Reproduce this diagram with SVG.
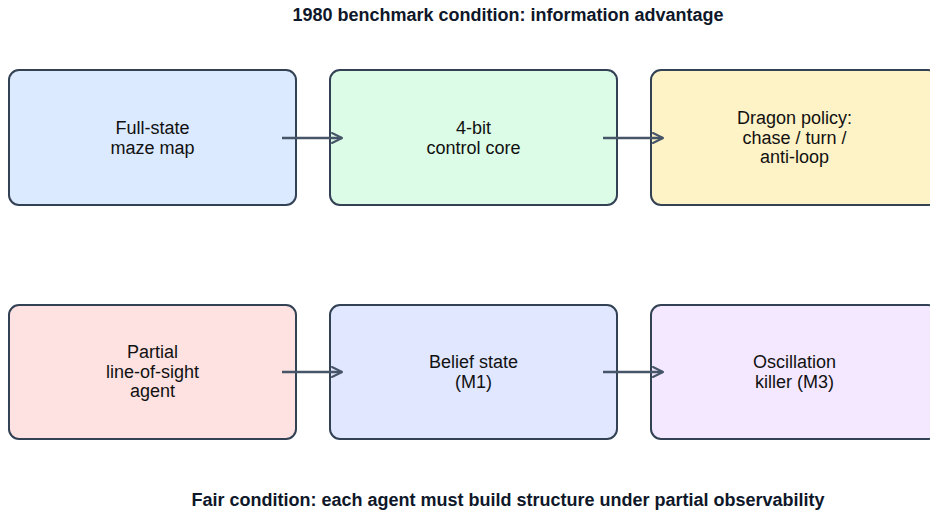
<svg xmlns="http://www.w3.org/2000/svg" width="930" height="514" viewBox="0 0 930 514">
  <defs>
    <marker id="arr" viewBox="0 0 12 12" refX="11" refY="6" markerWidth="12" markerHeight="12" markerUnits="userSpaceOnUse" orient="auto">
      <path d="M1,1 L11,6 L1,11" fill="none" stroke="#475569" stroke-width="2" stroke-linecap="round" stroke-linejoin="round"/>
    </marker>
  </defs>
  <style>
    .box { stroke: #334155; stroke-width: 2; }
    .lbl { font-family: "Liberation Sans", Arial, sans-serif; font-size: 18px; fill: #111111; text-anchor: middle; }
    .ttl { font-family: "Liberation Sans", Arial, sans-serif; font-size: 18px; font-weight: bold; fill: #0f172a; text-anchor: middle; }
    .conn { stroke: #475569; stroke-width: 2.5; fill: none; }
  </style>
  <rect width="930" height="514" fill="#ffffff"/>
  <text class="ttl" x="508" y="21">1980 benchmark condition: information advantage</text>
  <text class="ttl" x="508" y="506">Fair condition: each agent must build structure under partial observability</text>

  <g id="n1">
    <rect class="box" x="9" y="70" width="287" height="135" rx="10" fill="#dbeafe"/>
    <text class="lbl" x="152.5" y="133.5">Full-state</text>
    <text class="lbl" x="152.5" y="153.5">maze map</text>
  </g>
  <g id="n2">
    <rect class="box" x="330" y="70" width="287" height="135" rx="10" fill="#dcfce7"/>
    <text class="lbl" x="473.5" y="133.5">4-bit</text>
    <text class="lbl" x="473.5" y="153.5">control core</text>
  </g>
  <g id="n3">
    <rect class="box" x="651" y="70" width="287" height="135" rx="10" fill="#fef3c7"/>
    <text class="lbl" x="794.5" y="124">Dragon policy:</text>
    <text class="lbl" x="794.5" y="143.5">chase / turn /</text>
    <text class="lbl" x="794.5" y="163">anti-loop</text>
  </g>
  <g id="n4">
    <rect class="box" x="9" y="305" width="287" height="134" rx="10" fill="#fee2e2"/>
    <text class="lbl" x="152.5" y="358">Partial</text>
    <text class="lbl" x="152.5" y="377.5">line-of-sight</text>
    <text class="lbl" x="152.5" y="397">agent</text>
  </g>
  <g id="n5">
    <rect class="box" x="330" y="305" width="287" height="134" rx="10" fill="#e0e7ff"/>
    <text class="lbl" x="473.5" y="367.5">Belief state</text>
    <text class="lbl" x="473.5" y="387.5">(M1)</text>
  </g>
  <g id="n6">
    <rect class="box" x="651" y="305" width="287" height="134" rx="10" fill="#f3e8ff"/>
    <text class="lbl" x="794.5" y="367.5">Oscillation</text>
    <text class="lbl" x="794.5" y="387.5">killer (M3)</text>
  </g>

  <g id="connectors">
    <line class="conn" x1="282" y1="138" x2="342" y2="138" marker-end="url(#arr)"/>
    <line class="conn" x1="603" y1="138" x2="663" y2="138" marker-end="url(#arr)"/>
    <line class="conn" x1="282" y1="372" x2="342" y2="372" marker-end="url(#arr)"/>
    <line class="conn" x1="603" y1="372" x2="663" y2="372" marker-end="url(#arr)"/>
  </g>
</svg>
